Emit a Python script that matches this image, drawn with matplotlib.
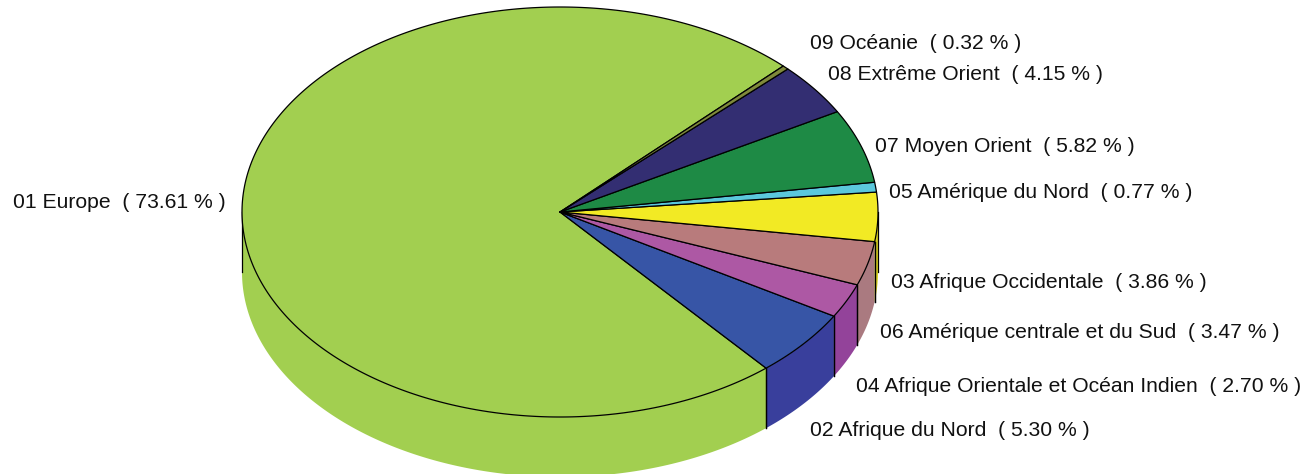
import numpy as np
import matplotlib
matplotlib.use("Agg")
import matplotlib.pyplot as plt
from matplotlib.patches import Polygon

# slices in counter clockwise order, starting from the upper right
names = ["01 Europe", "02 Afrique du Nord", "04 Afrique Orientale et Océan Indien",
         "06 Amérique centrale et du Sud", "03 Afrique Occidentale",
         "05 Amérique du Nord", "07 Moyen Orient", "08 Extrême Orient", "09 Océanie"]
shares = [73.61, 5.30, 2.70, 3.47, 3.86, 0.77, 5.82, 4.15, 0.32]
top_colors = ["#A2CF50", "#3755A6", "#AD58A4", "#B87B7C", "#F2EA24",
              "#5BC8DC", "#1E8A45", "#332E72", "#7F8A3B"]
side_colors = ["#A2CF50", "#393F9C", "#93439A", "#AA7A80", "#D8D020",
               "#5BC8DC", "#1E8A45", "#332E72", "#7F8A3B"]
label_x = [13, 810, 856, 880, 891, 889, 875, 828, 810]
label_y = [203, 430, 386, 332, 283, 192, 147, 74, 43]

CX, CY = 560, 212
RX, RY = 318, 205
DEPTH = 60
START = 45.4


def rim(a0, a1):
    t = np.radians(np.linspace(a0, a1, max(int(abs(a1 - a0) * 3), 2)))
    return CX + RX * np.cos(t), CY - RY * np.sin(t)


fig = plt.figure(figsize=(13.05, 4.74), dpi=100)
ax = fig.add_axes([0, 0, 1, 1])
ax.set_xlim(0, 1305)
ax.set_ylim(474, 0)
ax.axis("off")

edges = START + np.concatenate([[0], np.cumsum(shares)]) * 3.6

# side wall, only the part on the front of the ellipse shows
for i in range(len(shares)):
    a0 = max(edges[i], 180)
    a1 = min(edges[i + 1], 360)
    if a1 <= a0:
        continue
    x, y = rim(a0, a1)
    pts = np.r_[np.c_[x, y], np.c_[x, y + DEPTH][::-1]]
    ax.add_patch(Polygon(pts, closed=True, fc=side_colors[i], ec="none", zorder=1))
    ax.plot([x[0], x[0]], [y[0], y[0] + DEPTH], color="black", lw=0.9, zorder=2)
    ax.plot([x[-1], x[-1]], [y[-1], y[-1] + DEPTH], color="black", lw=0.9, zorder=2)

# top of the pie
for i in range(len(shares)):
    x, y = rim(edges[i], edges[i + 1])
    pts = np.r_[[[CX, CY]], np.c_[x, y]]
    ax.add_patch(Polygon(pts, closed=True, fc=top_colors[i], ec="black", lw=0.9,
                         joinstyle="round", zorder=3))

for name, share, lx, ly in zip(names, shares, label_x, label_y):
    ax.text(lx, ly, "%s  ( %.2f %% )" % (name, share), ha="left", va="center",
            family="Liberation Sans", fontsize=15.2, color="#111111")

fig.savefig("out.png", dpi=100)
